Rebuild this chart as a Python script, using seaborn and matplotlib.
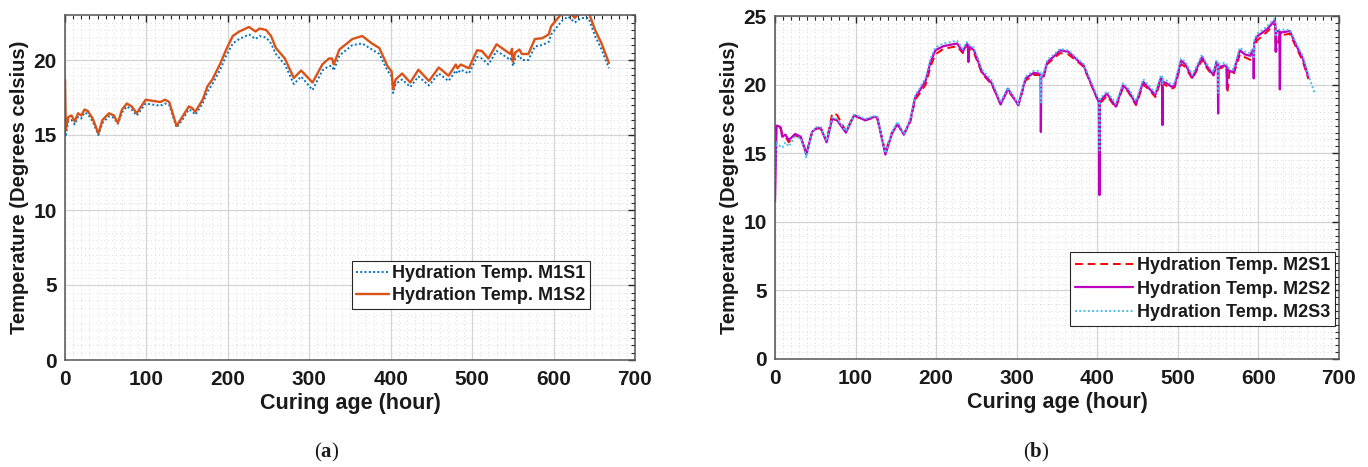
import numpy as np
import pandas as pd
import matplotlib
matplotlib.use("Agg")
import matplotlib.pyplot as plt
import seaborn as sns
from matplotlib.ticker import MultipleLocator

nan = np.nan

# ---------------- Panel (a) data ----------------
t1 = [0, 1, 4, 8, 12, 16, 20, 24, 28, 34,
      41, 46, 54, 60, 65, 70, 76, 82, 88, 99,
      111, 117, 123, 128, 137, 144, 152, 156, 160, 169,
      175, 181, 191, 198, 206, 214, 226, 234, 239, 247,
      253, 259, 270, 281, 290, 304, 316, 324, 328, 330,
      337, 353, 365, 377, 386, 396, 401, 403, 406, 414,
      424, 434, 447, 459, 471, 480, 482, 486, 496, 506,
      512, 520, 530, 539, 547, 549, 550, 553, 558, 561,
      569, 577, 586, 594, 597, 610, 618, 626, 634, 643,
      651, 659, 668]
m1s2 = [18.7, 15.35, 16.2, 16.3, 15.9, 16.45, 16.3, 16.7, 16.6, 16.1,
        15.1, 16.0, 16.45, 16.3, 15.8, 16.7, 17.1, 16.9, 16.45, 17.35,
        17.25, 17.2, 17.35, 17.2, 15.6, 16.2, 16.9, 16.8, 16.55, 17.35,
        18.25, 18.7, 19.8, 20.7, 21.6, 21.9, 22.2, 21.9, 22.1, 22.0,
        21.6, 20.8, 20.1, 18.8, 19.3, 18.5, 19.7, 20.1, 20.1, 19.7,
        20.7, 21.4, 21.6, 21.1, 20.8, 19.6, 19.25, 18.05, 18.7, 19.1,
        18.5, 19.35, 18.6, 19.5, 18.95, 19.7, 19.45, 19.7, 19.45, 20.65,
        20.6, 20.1, 21.05, 20.7, 20.4, 20.75, 19.9, 20.5, 20.7, 20.4,
        20.4, 21.4, 21.45, 21.7, 22.25, 23.1, 23.3, 22.8, 23.3, 23.2,
        22.0, 21.1, 19.8]
m1s1 = [15.3, 15.0, 15.9, 16.0, 15.7, 16.2, 16.1, 16.5, 16.4, 15.9,
        15.0, 15.8, 16.25, 16.15, 15.75, 16.5, 16.9, 16.7, 16.3, 17.1,
        17.0, 16.95, 17.1, 17.0, 15.5, 16.0, 16.7, 16.6, 16.35, 17.1,
        17.9, 18.4, 19.4, 20.3, 21.1, 21.4, 21.7, 21.4, 21.6, 21.5,
        21.1, 20.4, 19.7, 18.4, 18.9, 18.0, 19.3, 19.6, 19.6, 19.3,
        20.3, 21.0, 21.1, 20.7, 20.4, 19.3, 18.9, 17.8, 18.4, 18.7,
        18.2, 18.9, 18.3, 19.1, 18.6, 19.3, 19.1, 19.35, 19.1, 20.2,
        20.1, 19.7, 20.6, 20.3, 20.0, 20.3, 19.6, 20.1, 20.3, 20.0,
        20.0, 20.9, 21.0, 21.2, 21.7, 22.6, 22.9, 22.5, 22.8, 22.8,
        21.6, 20.7, 19.45]

# ---------------- Panel (b) data ----------------
t2 = [0, 1, 2, 3, 7, 9, 13, 17, 25, 32,
      39, 46, 52, 57, 64, 71, 77, 88, 98, 104,
      112, 123, 127, 137, 145, 152, 160, 168, 174, 180,
      187, 193, 199, 209, 226, 233, 238, 239.5, 240, 240.5,
      247, 257, 269, 280, 289, 302, 311, 321, 328, 329.5,
      330, 330.5, 333, 338, 348, 354, 364, 375, 383, 393,
      399, 402, 402.7, 403.4, 412, 423, 432, 438, 448, 457,
      463, 472, 479, 480.5, 481, 481.5, 486, 492, 496, 504,
      509, 518, 530, 536, 544, 548, 549.5, 550, 550.5, 553,
      558, 560.5, 561, 561.5, 564, 569, 577, 583, 590, 593,
      593.7, 594.2, 594.7, 598, 610, 620, 621, 621.5, 622, 626,
      626.6, 627.2, 628, 639, 647, 655, 662, 670]
m2s2 = [11.5, 14.5, 17.0, 17.0, 16.9, 16.2, 16.35, 15.95, 16.4, 16.2,
        14.9, 16.55, 16.85, 16.8, 15.8, 17.5, 17.4, 16.5, 17.75, 17.6,
        17.4, 17.65, 17.6, 14.9, 16.4, 17.15, 16.35, 17.4, 19.1, 19.6,
        20.3, 21.65, 22.5, 22.8, 23.0, 22.4, 22.95, 22.9, 21.65, 22.8,
        22.5, 20.9, 20.1, 18.55, 19.7, 18.5, 20.45, 20.85, 20.8, 20.75,
        16.55, 20.6, 20.6, 21.65, 22.15, 22.5, 22.4, 21.8, 21.4, 19.95,
        19.1, 18.8, 11.95, 18.8, 19.35, 18.4, 19.95, 19.6, 18.6, 20.2,
        19.8, 19.25, 20.5, 20.4, 17.05, 20.2, 20.1, 19.85, 19.9, 21.75,
        21.5, 20.5, 22.0, 21.35, 20.7, 21.65, 21.5, 17.9, 21.3, 21.3,
        21.4, 21.3, 19.7, 21.1, 21.0, 20.9, 22.5, 22.2, 22.1, 22.55,
        22.5, 20.45, 23.0, 23.5, 24.0, 24.65, 24.4, 22.4, 23.9, 23.9,
        19.65, 23.8, 23.8, 23.9, 22.85, 21.9, 20.55, nan]
m2s1 = [16.5, 16.8, 17.1, 17.0, 16.8, 16.4, 16.2, 15.8, 16.3, 16.1,
        15.0, 16.5, 16.8, 16.8, 15.9, 17.9, 17.8, 16.6, 17.8, 17.6,
        17.4, 17.6, 17.5, 15.1, 16.5, 17.1, 16.4, 17.3, 18.9, 19.4,
        20.0, 21.3, 22.2, 22.6, 22.8, 22.3, 22.8, 22.8, 22.7, 22.6,
        22.3, 20.8, 20.0, 18.6, 19.6, 18.5, 20.3, 20.7, 20.7, 20.7,
        20.6, 20.5, 20.5, 21.5, 22.0, 22.3, 22.2, 21.7, 21.3, 19.9,
        19.1, 18.7, 18.6, 18.6, 19.2, 18.3, 19.8, 19.5, 18.5, 20.0,
        19.7, 19.1, 20.3, 20.3, 20.2, 20.1, 19.9, 19.7, 19.8, 21.5,
        21.3, 20.4, 21.8, 21.2, 20.6, 21.4, 21.4, 21.3, 21.2, 21.2,
        21.3, 21.2, 19.4, 19.4, 20.9, 20.7, 22.2, 22.0, 21.8, 22.3,
        22.3, 22.4, 22.6, 23.2, 23.8, 24.4, 24.2, 22.4, 22.4, 23.6,
        23.6, 23.6, 23.6, 23.7, 22.7, 21.7, 20.4, nan]
m2s3 = [13.0, 15.5, 15.8, 15.6, 15.5, 15.4, 15.8, 15.5, 16.2, 16.1,
        14.7, 16.6, 16.9, 16.9, 15.9, 17.6, 17.5, 16.6, 17.8, 17.7,
        17.5, 17.7, 17.7, 15.0, 16.5, 17.3, 16.4, 17.5, 19.2, 19.8,
        20.5, 21.9, 22.7, 23.0, 23.2, 22.6, 23.1, 23.0, 22.9, 22.9,
        22.7, 21.1, 20.3, 18.7, 19.8, 18.6, 20.6, 21.0, 21.0, 20.9,
        18.7, 20.8, 20.8, 21.8, 22.3, 22.6, 22.5, 21.9, 21.5, 20.1,
        19.3, 19.0, 15.2, 19.0, 19.5, 18.6, 20.1, 19.8, 18.8, 20.4,
        20.0, 19.4, 20.7, 20.6, 20.0, 20.4, 20.3, 20.0, 20.1, 21.9,
        21.7, 20.7, 22.2, 21.5, 20.9, 21.8, 21.7, 19.4, 21.5, 21.5,
        21.6, 21.5, 21.3, 21.3, 21.2, 21.1, 22.7, 22.4, 22.3, 22.7,
        22.7, 22.0, 23.2, 23.7, 24.2, 24.8, 24.6, 23.6, 24.0, 24.0,
        24.0, 24.0, 24.0, 24.0, 23.0, 22.1, 20.7, 19.35]

labels_a = ["Hydration Temp. M1S1", "Hydration Temp. M1S2"]
labels_b = ["Hydration Temp. M2S1", "Hydration Temp. M2S2", "Hydration Temp. M2S3"]
x_ticks = [0, 100, 200, 300, 400, 500, 600, 700]
xlabel = "Curing age (hour)"
ylabel = "Temperature (Degrees celsius)"

# ---------------- Style ----------------
sns.set_style("white")
plt.rcParams['font.family'] = ['Liberation Sans', 'DejaVu Sans']
plt.rcParams['mathtext.fontset'] = 'custom'
plt.rcParams['mathtext.rm'] = 'Liberation Serif'
plt.rcParams['mathtext.bf'] = 'Liberation Serif:bold'

W, H = 1368, 467
fig = plt.figure(figsize=(W / 100, H / 100), dpi=100)


def add_axes(l, r, t, b):
    return fig.add_axes([l / W, 1 - b / H, (r - l) / W, (b - t) / H])


ax1 = add_axes(65, 635, 15, 360)
ax2 = add_axes(775, 1339, 16, 359)
TXT = '#1a1a1a'


def style(ax, ymax):
    ax.set_xlim(0, 700)
    ax.set_ylim(0, ymax)
    ax.set_xticks(x_ticks)
    ax.xaxis.set_minor_locator(MultipleLocator(10))
    ax.yaxis.set_major_locator(MultipleLocator(5))
    ax.yaxis.set_minor_locator(MultipleLocator(0.5))
    ax.set_axisbelow(True)
    ax.grid(which='major', color='#d4d4d4', lw=0.9, ls='-')
    ax.grid(which='minor', color='#dadada', lw=0.7, ls=(0, (1, 3)))
    ax.tick_params(which='both', direction='in', top=True, right=True,
                   colors='#262626')
    ax.tick_params(which='major', length=5, width=1, labelsize=15)
    ax.tick_params(axis='x', which='major', pad=7)
    ax.tick_params(axis='y', which='major', pad=6)
    ax.tick_params(which='minor', length=3, width=0.8)
    for s in ax.spines.values():
        s.set_color('#555555')
        s.set_linewidth(1.1)
    for lbl in ax.get_xticklabels() + ax.get_yticklabels():
        lbl.set_fontweight('bold')
        lbl.set_color(TXT)
    ax.set_xlabel(xlabel, fontsize=15.5, fontweight='bold', color=TXT,
                  labelpad=3)
    ax.set_ylabel(ylabel, fontsize=14.5, fontweight='bold', color=TXT,
                  labelpad=3)


# Panel (a)
sns.lineplot(x=t1, y=m1s1, ax=ax1, color='#0072BD', lw=1.4,
             linestyle=(0, (1, 1.2)), label=labels_a[0])
sns.lineplot(x=t1, y=m1s2, ax=ax1, color='#D95319', lw=1.7,
             linestyle='-', label=labels_a[1])
style(ax1, 23)

# Panel (b)
sns.lineplot(x=t2, y=m2s1, ax=ax2, color='#FF0000', lw=1.4,
             linestyle=(0, (4, 2.5)), label=labels_b[0])
sns.lineplot(x=t2, y=m2s2, ax=ax2, color='#BF00BF', lw=1.6,
             linestyle='-', label=labels_b[1])
sns.lineplot(x=t2, y=m2s3, ax=ax2, color='#4DBEEE', lw=1.4,
             linestyle=(0, (1, 1.2)), label=labels_b[2])
style(ax2, 25)

leg_kw = dict(prop={'weight': 'bold', 'size': 13}, frameon=True,
              fancybox=False, framealpha=1, edgecolor='#262626',
              handletextpad=0.2, borderaxespad=0)
l1 = ax1.legend(loc='upper left', bbox_to_anchor=(0.503, 0.287),
                handlelength=1.8, borderpad=0.25, labelspacing=0.25,
                **leg_kw)
l2 = ax2.legend(loc='upper left', bbox_to_anchor=(0.523, 0.312),
                handlelength=3.2, borderpad=0.3, labelspacing=0.35,
                **leg_kw)
for lg in (l1, l2):
    lg.get_frame().set_linewidth(0.8)
    for txt in lg.get_texts():
        txt.set_color(TXT)

fig.text(327 / W, 1 - 452 / H, r"($\mathbf{a}$)", ha='center', va='center',
         family='Liberation Serif', fontsize=15, color=TXT)
fig.text(1036 / W, 1 - 452 / H, r"($\mathbf{b}$)", ha='center', va='center',
         family='Liberation Serif', fontsize=15, color=TXT)

fig.savefig("out.png", dpi=100)
